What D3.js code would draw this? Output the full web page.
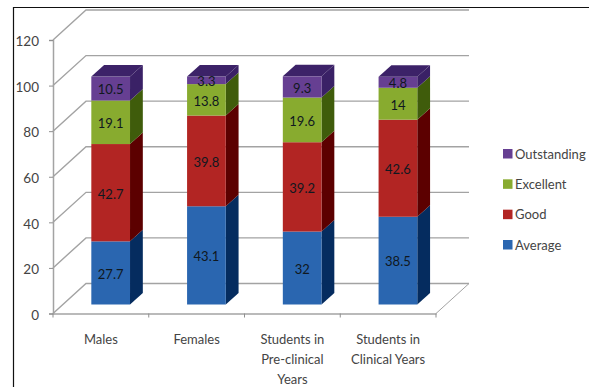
<!DOCTYPE html>
<html>
<head>
<meta charset="utf-8">
<script src="https://cdn.jsdelivr.net/npm/d3@7/dist/d3.min.js"></script>
<style>
html, body { margin: 0; padding: 0; background: #fff; }
svg { display: block; }
text { font-family: Lato, "Open Sans", sans-serif; }
</style>
</head>
<body>
<svg id="chart" width="589" height="387"></svg>
<script>
const categories = ["Males", "Females", "Students in Pre-clinical Years", "Students in Clinical Years"];
const categoryLines = [["Males"], ["Females"], ["Students in", "Pre-clinical", "Years"], ["Students in", "Clinical Years"]];
const seriesNames = ["Average", "Good", "Excellent", "Outstanding"];
const average = [27.7, 43.1, 32, 38.5];
const good = [42.7, 39.8, 39.2, 42.6];
const excellent = [19.1, 13.8, 19.6, 14];
const outstanding = [10.5, 3.3, 9.3, 4.8];
const tickValues = [0, 20, 40, 60, 80, 100, 120];

const frontColors = ["#2a66b0", "#b22523", "#88ab2f", "#663f92"];
const sideColors = ["#052c5f", "#5c0000", "#3f5c0b", "#3a2166"];
const topColor = "#3c2268";
const gridColor = "#a3a3a3";

const svg = d3.select("#chart");
const seriesValues = [average, good, excellent, outstanding];

// The floor's front edge and value axis sit on the front plane; the wall is offset up and right.
const x = d3.scaleBand().domain(categories).range([53, 436]);
const y = d3.scaleLinear().domain([0, 120]).range([313.5, 40]);
const wall = { dx: 33, dy: -30 };
const barShift = { dx: 9.8, dy: -9 };
const barDepth = { dx: 12.8, dy: -11.5 };
const barWidth = 38.7;

// Image frame: only the top and left rules are drawn.
svg.append("path").attr("d", "M13.5,387V7.5H589")
  .attr("fill", "none").attr("stroke", "#111").attr("stroke-width", 1.2);

// Wall gridlines with their diagonal run back from the axis.
const grid = svg.append("g").attr("fill", "none").attr("stroke", gridColor).attr("stroke-width", 1.4);
tickValues.forEach(v => {
  const y0 = y(v);
  grid.append("path").attr("d",
    `M${x.range()[0]},${y0}L${x.range()[0] + wall.dx},${y0 + wall.dy}H${x.range()[1] + wall.dx}`);
});
// Floor's right edge.
grid.append("path").attr("d",
  `M${x.range()[1]},${y(0)}L${x.range()[1] + wall.dx},${y(0) + wall.dy}`).attr("stroke-width", 1);

// Value axis and category axis from D3's axis generators.
const axisLeft = d3.axisLeft(y).tickValues(tickValues).tickSize(4).tickPadding(10);
const gy = svg.append("g").attr("transform", `translate(${x.range()[0]},0)`).call(axisLeft);
gy.select(".domain").attr("stroke", gridColor).attr("stroke-width", 1.5);
gy.selectAll(".tick line").attr("stroke", "#8f8f8f");
gy.selectAll("text").attr("font-size", 13.5).attr("fill", "#444").attr("dy", "0.42em")
  .style("font-family", "Lato, sans-serif");

const gx = svg.append("g").attr("transform", `translate(0,${y(0)})`)
  .call(d3.axisBottom(x).tickFormat("").tickSize(0));
gx.select(".domain").attr("stroke", gridColor).attr("stroke-width", 1.5);
x.domain().concat([null]).forEach((c, i) => {
  const px = x.range()[0] + i * x.step();
  gx.append("line").attr("x1", px).attr("x2", px).attr("y1", 0).attr("y2", 4)
    .attr("stroke", "#8f8f8f");
});

// Multi-line category labels.
categories.forEach((c, i) => {
  const t = svg.append("text").attr("text-anchor", "middle").attr("font-size", 13)
    .attr("fill", "#444").attr("x", x(c) + x.bandwidth() / 2).attr("y", 344);
  categoryLines[i].forEach((line, j) => {
    t.append("tspan").attr("x", t.attr("x")).attr("dy", j === 0 ? 0 : 20).text(line);
  });
});

// Stacked 3-D columns: front face, side face, and a cap on the top segment.
const scaleV = v => y(v) - y(0);
const line = d3.line();
categories.forEach((c, i) => {
  const left = x(c) + x.bandwidth() / 2 + barShift.dx - barWidth / 2;
  const right = left + barWidth;
  const base = y(0) + barShift.dy;
  let acc = 0;
  const g = svg.append("g");
  seriesValues.forEach((vals, s) => {
    const v = vals[i];
    const yb = base + scaleV(acc);
    const yt = base + scaleV(acc + v);
    g.append("path").attr("fill", sideColors[s]).attr("d", line([
      [right, yb], [right + barDepth.dx, yb + barDepth.dy],
      [right + barDepth.dx, yt + barDepth.dy], [right, yt]
    ]) + "Z");
    g.append("rect").attr("x", left).attr("y", yt).attr("width", barWidth)
      .attr("height", yb - yt).attr("fill", frontColors[s]);
    acc += v;
  });
  const top = base + scaleV(acc);
  g.append("path").attr("fill", topColor).attr("d", line([
    [left, top], [right, top],
    [right + barDepth.dx, top + barDepth.dy], [left + barDepth.dx, top + barDepth.dy]
  ]) + "Z");
  // Value labels are centred on each front face.
  acc = 0;
  seriesValues.forEach((vals, s) => {
    const v = vals[i];
    g.append("text").attr("x", (left + right) / 2)
      .attr("y", base + scaleV(acc + v / 2)).attr("dy", "0.45em")
      .attr("text-anchor", "middle").attr("font-size", 13).attr("fill", "#101820")
      .text(String(v));
    acc += v;
  });
});

// Legend, top entry is the top of the stack.
const legendTop = d3.scalePoint().domain(seriesNames.slice().reverse()).range([154, 245]);
seriesNames.forEach((name, s) => {
  const cy = legendTop(name);
  svg.append("rect").attr("x", 503).attr("y", cy - 5).attr("width", 9.5).attr("height", 9.5)
    .attr("fill", frontColors[s]);
  svg.append("text").attr("x", 515).attr("y", cy).attr("dy", "0.35em")
    .attr("font-size", 13).attr("fill", "#444").text(name);
});
</script>
</body>
</html>
